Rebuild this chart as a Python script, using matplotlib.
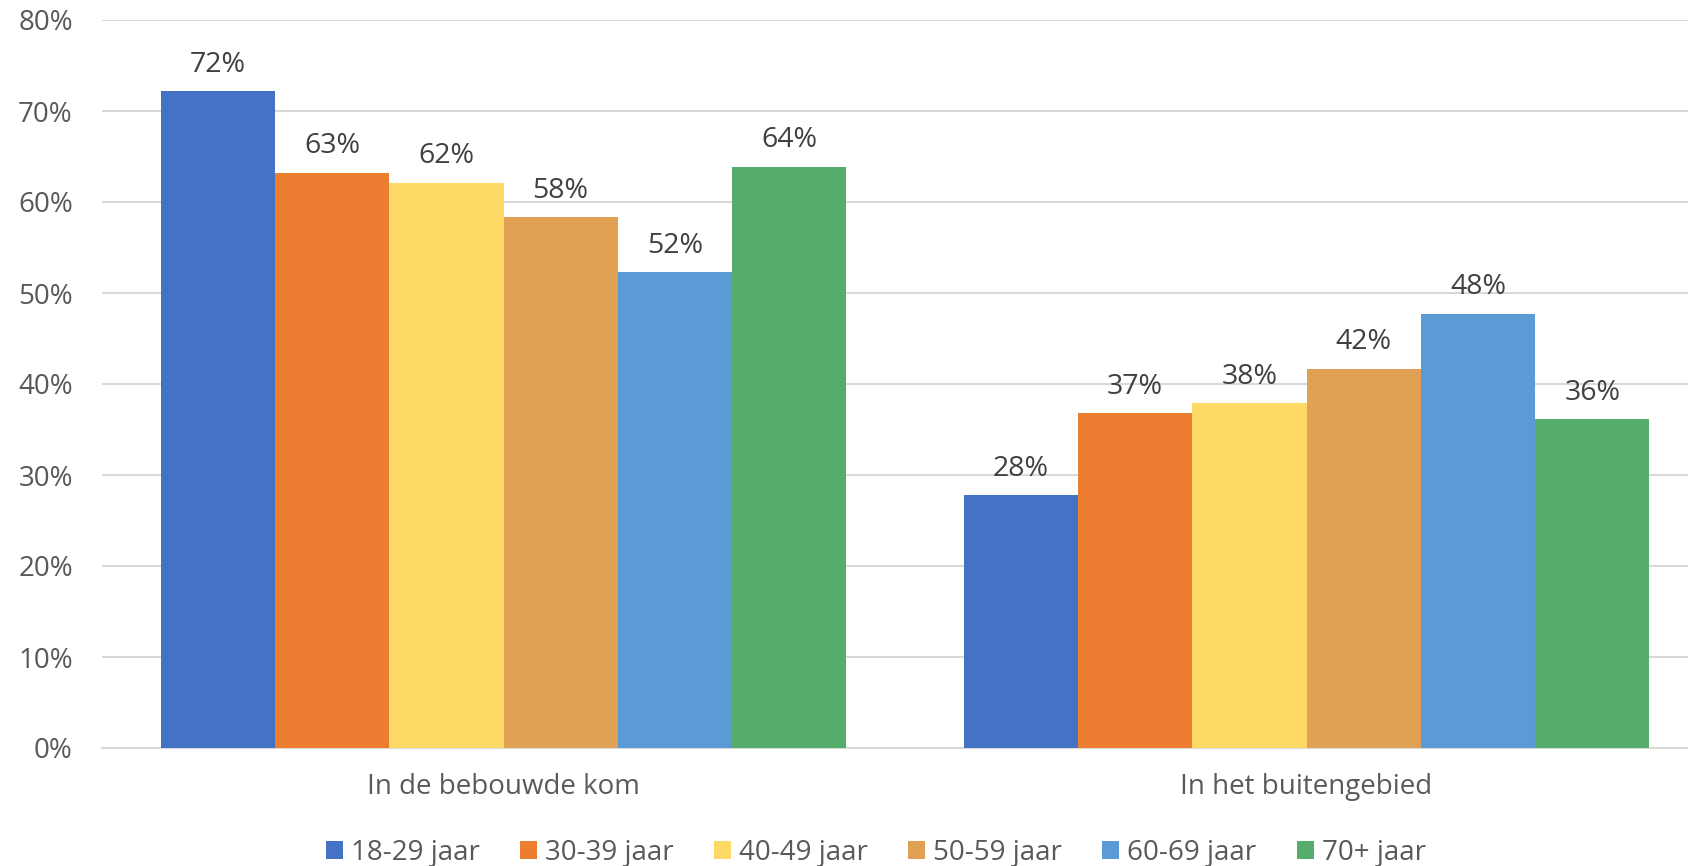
import numpy as np
import matplotlib.pyplot as plt
from matplotlib.patches import Patch

plt.rcParams['font.family'] = ['Open Sans', 'DejaVu Sans']

# data
categories = ['In de bebouwde kom', 'In het buitengebied']
age_groups = ['18-29 jaar', '30-39 jaar', '40-49 jaar', '50-59 jaar', '60-69 jaar', '70+ jaar']
bebouwde_kom = [72.2, 63.2, 62.1, 58.3, 52.3, 63.9]
buitengebied = [27.8, 36.8, 37.9, 41.7, 47.7, 36.1]
y_ticks = [0, 10, 20, 30, 40, 50, 60, 70, 80]

colors = ['#4472C4', '#ED7D31', '#FFD966', '#E0A154', '#5B9BD5', '#55AD6B']

W, H = 1688, 866
fig = plt.figure(figsize=(W / 100, H / 100), dpi=100)
# axis spans past the right edge of the picture, as in the reference crop
ax = fig.add_axes([102 / W, 118 / H, (1708 - 102) / W, 728 / H])

values = np.array([bebouwde_kom, buitengebied])
n = len(age_groups)
bar_w = 0.854 / n
x = np.arange(len(categories))

for i, (name, col) in enumerate(zip(age_groups, colors)):
    xs = x - 0.427 + bar_w * (i + 0.5)
    ax.bar(xs, values[:, i], width=bar_w, color=col, zorder=3)
    for xi, v in zip(xs, values[:, i]):
        ax.annotate(f'{v:.0f}%', (xi, v), xytext=(0, 14), textcoords='offset points',
                    ha='center', va='baseline', fontsize=20.5, color='#404040')

ax.set_xlim(-0.5, 1.5)
ax.set_ylim(0, 80)
ax.set_yticks(y_ticks)
ax.set_yticklabels([f'{t}%' for t in y_ticks])
ax.set_xticks(x)
ax.set_xticklabels(categories)
ax.tick_params(axis='y', length=0, pad=21, labelsize=20, labelcolor='#595959')
ax.tick_params(axis='x', length=0, pad=18, labelsize=20, labelcolor='#595959')

ax.grid(axis='y', color='#D9D9D9', linewidth=1.5, zorder=0)
for s in ['top', 'right', 'left']:
    ax.spines[s].set_visible(False)
ax.spines['bottom'].set_color('#D9D9D9')
ax.spines['bottom'].set_linewidth(1.5)

handles = [Patch(facecolor=c, label=a) for a, c in zip(age_groups, colors)]
fig.legend(handles=handles, loc='center', bbox_to_anchor=(876 / W, 13 / H), ncol=n,
           frameon=False, fontsize=20, labelcolor='#595959', handlelength=0.6,
           handleheight=0.6, handletextpad=0.3, columnspacing=1.45)

fig.savefig('out.png', dpi=100)
